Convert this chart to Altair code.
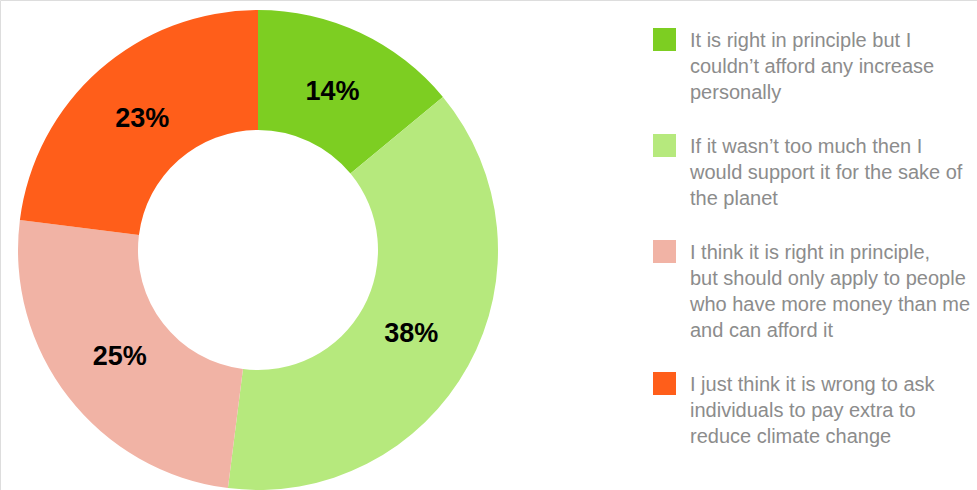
import altair as alt
import pandas as pd

categories = [
    "It is right in principle but I\ncouldn’t afford any increase\npersonally",
    "If it wasn’t too much then I\nwould support it for the sake of\nthe planet",
    "I think it is right in principle,\nbut should only apply to people\nwho have more money than me\nand can afford it",
    "I just think it is wrong to ask\nindividuals to pay extra to\nreduce climate change",
]
values = [14, 38, 25, 23]
colors = ["#7dce22", "#b6e97d", "#f1b3a5", "#ff5e1a"]

df = pd.DataFrame({
    "answer": categories,
    "share": values,
    "idx": list(range(len(categories))),
})
df["label"] = df["share"].astype(str) + "%"

base = alt.Chart(df).encode(
    theta=alt.Theta("share:Q", stack=True),
    order=alt.Order("idx:Q"),
    x=alt.value(258),
    y=alt.value(250),
)

arcs = base.mark_arc(outerRadius=240, innerRadius=120, stroke=None).encode(
    color=alt.Color(
        "answer:N",
        sort=categories,
        scale=alt.Scale(domain=categories, range=colors),
        legend=alt.Legend(
            title=None,
            orient="none",
            legendX=653,
            legendY=28,
            symbolType="square",
            symbolSize=529,
            symbolStrokeWidth=0,
            symbolOpacity=1,
            labelFont="Liberation Sans",
            labelFontSize=20,
            labelColor="#8c8c8c",
            labelBaseline="top",
            labelOffset=14,
            labelLimit=400,
            labelExpr="split(datum.label, '\\n')",
            rowPadding=31,
        ),
    )
)

labels = base.mark_text(
    radius=175,
    font="Liberation Sans",
    fontSize=27,
    fontWeight="bold",
    color="#000000",
).encode(text="label:N")

chart = (
    (arcs + labels)
    .properties(width=977, height=490, padding=0, autosize=alt.AutoSizeParams(type="none"))
    .configure_view(stroke=None)
    .configure(style={"guide-label": {"lineHeight": 26, "dy": -9}})
)

chart.save("out.html", embed_options={"renderer": "svg", "actions": False})
